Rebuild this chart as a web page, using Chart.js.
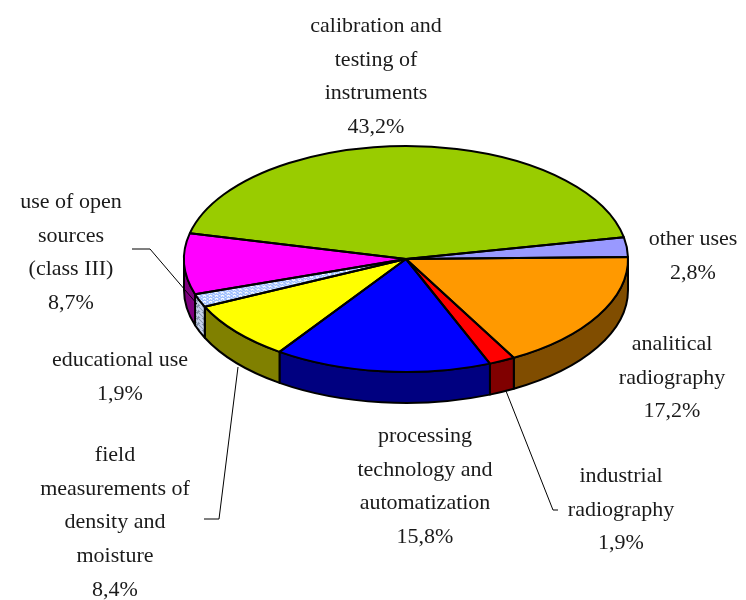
<!DOCTYPE html>
<html><head><meta charset="utf-8">
<style>html,body{margin:0;padding:0;background:#fff}#w{position:relative;width:746px;height:600px}</style>
<script src="https://cdn.jsdelivr.net/npm/chart.js@4/dist/chart.umd.min.js"></script>
</head><body><div id="w"><canvas id="c" width="746" height="600"></canvas></div>
<script>
const categories=["calibration and testing of instruments","other uses","analitical radiography","industrial radiography","processing technology and automatization","field measurements of density and moisture","educational use","use of open sources (class III)"];
const shares=[43.2,2.8,17.2,1.9,15.8,8.4,1.9,8.7];
const topColors=["#99CC00","#9999FF","#FF9900","#FF0000","#0000FF","#FFFF00","HATCH","#FF00FF"];
const rimColors=["#4D6600","#4D4D80","#804D00","#800000","#000080","#808000","HATCHDARK","#800080"];
const labelLines=[["calibration and","testing of","instruments","43,2%"],["other uses","2,8%"],["analitical","radiography","17,2%"],["industrial","radiography","1,9%"],["processing","technology and","automatization","15,8%"],["field","measurements of","density and","moisture","8,4%"],["educational use","1,9%"],["use of open","sources","(class III)","8,7%"]];
const labelAnchors=[[376,26],[693,239],[672,344],[621,476],[425,436],[115,455],[120,360],[71,202]];
const leaders=[[[506,391],[553,510],[558,510]],[[238,367],[219,519],[204,519]],[[132,249],[150,249],[197,304]]];
const PIE={cy:259,ry:113,depth:31};

function hatch(bg,fg){
  const p=document.createElement('canvas');p.width=6;p.height=6;
  const x=p.getContext('2d');x.fillStyle=bg;x.fillRect(0,0,6,6);
  x.strokeStyle=fg;x.lineWidth=2;
  x.beginPath();x.moveTo(-1,1);x.lineTo(5,7);x.moveTo(1,-1);x.lineTo(7,5);x.stroke();
  return x.createPattern(p,'repeat');
}
const HP=hatch('#FFFFFF','#99BBFF'),HD=hatch('#8090A8','#C8D4EE');
const fills=topColors.map(c=>c==='HATCH'?HP:c);
const rims=rimColors.map(c=>c==='HATCHDARK'?HD:c);

function squash(ctx,a){const k=PIE.ry/a.outerRadius;ctx.translate(0,PIE.cy);ctx.scale(1,k);ctx.translate(0,-a.y);}
const pie3d={id:'pie3d',
 beforeDatasetsDraw(chart){
  const ctx=chart.ctx,arcs=chart.getDatasetMeta(0).data;
  const a0=arcs[0],k=PIE.ry/a0.outerRadius,cx=a0.x,rx=a0.outerRadius,ry=PIE.ry,d=PIE.depth;
  const T=Math.PI*2;
  arcs.forEach((a,i)=>{
    for(const off of [-T,0,T]){
      const s=Math.max(a.startAngle,off),e=Math.min(a.endAngle,off+Math.PI);
      if(e<=s)continue;
      ctx.save();ctx.beginPath();
      ctx.ellipse(cx,PIE.cy,rx,ry,0,s,e);
      ctx.lineTo(cx+rx*Math.cos(e),PIE.cy+ry*Math.sin(e)+d);
      ctx.ellipse(cx,PIE.cy+d,rx,ry,0,e,s,true);
      ctx.closePath();
      ctx.fillStyle=rims[i];ctx.fill();
      ctx.strokeStyle='#000';ctx.lineWidth=2;ctx.lineJoin='round';ctx.stroke();
      ctx.restore();
    }
  });
  ctx.save();squash(ctx,a0);
 },
 afterDatasetsDraw(chart){
  const ctx=chart.ctx,arcs=chart.getDatasetMeta(0).data;
  ctx.restore();
  arcs.forEach(a=>{
    ctx.save();squash(ctx,a);
    ctx.beginPath();ctx.moveTo(a.x,a.y);ctx.arc(a.x,a.y,a.outerRadius,a.startAngle,a.endAngle);ctx.closePath();
    ctx.restore();
    ctx.strokeStyle='#000';ctx.lineWidth=2;ctx.lineJoin='round';ctx.stroke();
  });
  ctx.save();ctx.strokeStyle='#000';ctx.lineWidth=1;
  leaders.forEach(l=>{ctx.beginPath();l.forEach((p,i)=>i?ctx.lineTo(p[0],p[1]):ctx.moveTo(p[0],p[1]));ctx.stroke();});
  ctx.fillStyle='#1a1a1a';ctx.font='22px "Liberation Serif"';ctx.textAlign='center';ctx.textBaseline='middle';
  labelLines.forEach((ls,i)=>ls.forEach((t,j)=>ctx.fillText(t,labelAnchors[i][0],labelAnchors[i][1]+j*33.8)));
  ctx.restore();
 }};

new Chart(document.getElementById('c'),{type:'pie',
 data:{labels:categories,datasets:[{data:shares,backgroundColor:fills,borderWidth:0,clip:false}]},
 options:{responsive:false,animation:false,rotation:-76.8,
  layout:{padding:{left:184,right:118,top:78,bottom:78}},
  plugins:{legend:{display:false},tooltip:{enabled:false}}},
 plugins:[pie3d]});
</script></body></html>
